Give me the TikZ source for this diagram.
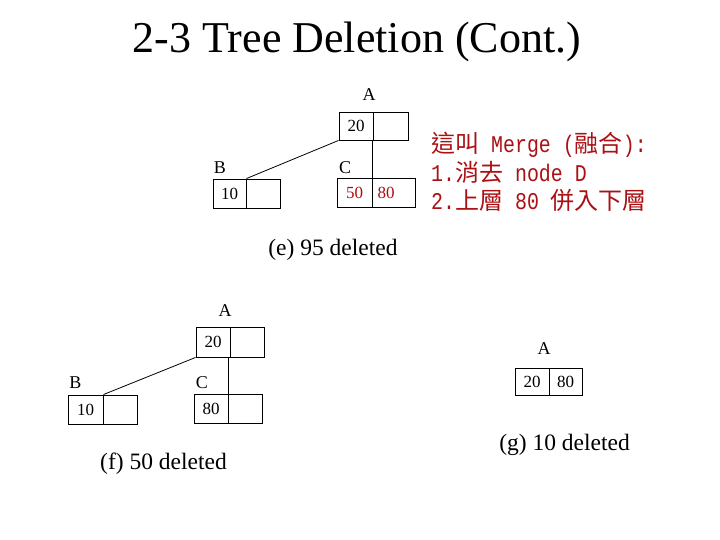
\documentclass[tikz,border=0pt]{standalone}
\usepackage{fontspec}
\setmainfont{Liberation Serif}
\newfontfamily\cjk{Noto Sans CJK TC}
\newfontfamily\monof[FakeStretch=0.83]{Liberation Mono}
\definecolor{dred}{RGB}{170,16,20}
\begin{document}
\begin{tikzpicture}[x=1pt,y=-1pt,
  cell/.style={draw, line width=0.9pt, minimum height=29pt, inner sep=0pt,
    font=\fontsize{17}{17}\selectfont},
  lab/.style={inner sep=0pt, font=\fontsize{18}{18}\selectfont},
  val/.style={inner sep=0pt, font=\fontsize{17}{17}\selectfont},
  captxt/.style={inner sep=0pt, anchor=base, font=\fontsize{23.5}{26}\selectfont},
  conn/.style={line width=0.8pt},
  note/.style={inner sep=0pt, anchor=base west, text=dred, font=\fontsize{24}{28}\selectfont}]
\useasboundingbox (0,0) rectangle (720,540);
\fill[white] (0,0) rectangle (720,540);
% title
\node[inner sep=0pt, anchor=base, font=\fontsize{44}{50}\selectfont] (title) at (357,53) {2-3 Tree Deletion (Cont.)};

% (e)
\node[cell, minimum width=34pt, minimum height=28pt] (eA1) at (356,126) {20};
\node[cell, minimum width=35pt, minimum height=28pt] (eA2) at (390.5,126) {};
\node[lab] (eAl) at (369,95) {A};
\node[cell, minimum width=33pt] (eB1) at (229.5,193.5) {10};
\node[cell, minimum width=34pt] (eB2) at (263,193.5) {};
\node[lab] (eBl) at (220,168) {B};
\node[cell, minimum width=35pt, text=dred] (eC1) at (354.5,192.5) {50};
\node[cell, minimum width=43pt] (eC2) at (393.5,192.5) {};
\node[val, text=dred] (eC2t) at (386,192.5) {80};
\node[lab] (eCl) at (345,168) {C};
\draw[conn] (eA1.south west) -- (eB1.north east);
\draw[conn] (eC1.north east) -- (eC1.north east |- eA1.south);
\node[captxt] (ecap) at (333,255) {(e) 95 deleted};

% note
\node[note] (n1) at (431,153) {{\cjk 這叫}{\monof{} Merge (}{\cjk 融合}{\monof ):}};
\node[note] (n2) at (431,182) {{\monof 1.}{\cjk 消去}{\monof{} node D}};
\node[note] (n3) at (431,210) {{\monof 2.}{\cjk 上層}{\monof{} 80 }{\cjk 併入下層}};

% (f)
\node[cell, minimum width=34pt, minimum height=30pt] (fA1) at (213,342) {20};
\node[cell, minimum width=34pt, minimum height=30pt] (fA2) at (247,342) {};
\node[lab] (fAl) at (225,311) {A};
\node[cell, minimum width=35pt] (fB1) at (85.5,409.5) {10};
\node[cell, minimum width=34pt] (fB2) at (120,409.5) {};
\node[lab] (fBl) at (75.5,383) {B};
\node[cell, minimum width=34pt] (fC1) at (211,408.5) {80};
\node[cell, minimum width=34pt] (fC2) at (245,408.5) {};
\node[lab] (fCl) at (202,383) {C};
\draw[conn] (fA1.south west) -- (fB1.north east);
\draw[conn] (fC1.north east) -- (fC1.north east |- fA1.south);
\node[captxt] (fcap) at (163.5,469) {(f) 50 deleted};

% (g)
\node[cell, minimum width=34pt, minimum height=27pt] (gA1) at (532,381.5) {20};
\node[cell, minimum width=33pt, minimum height=27pt] (gA2) at (565.5,381.5) {80};
\node[lab] (gAl) at (544,349) {A};
\node[captxt] (gcap) at (564.5,450) {(g) 10 deleted};
\end{tikzpicture}
\end{document}
